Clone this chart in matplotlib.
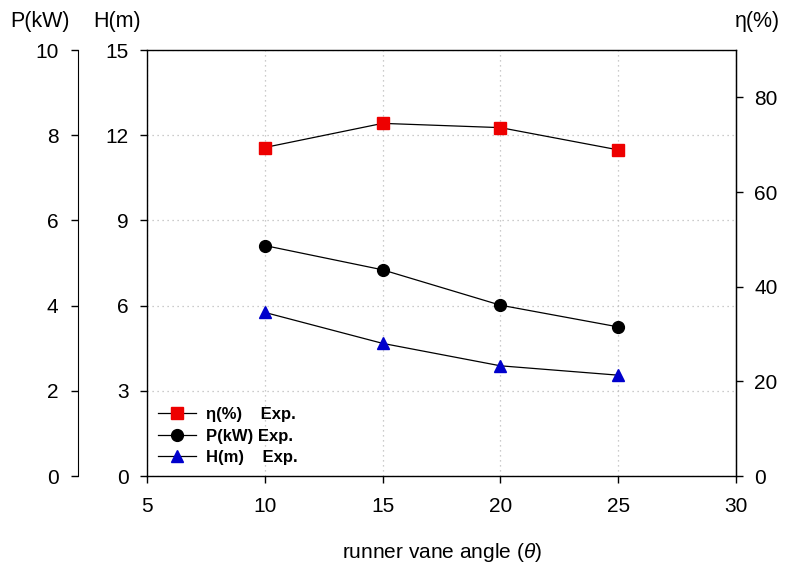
import matplotlib
matplotlib.use("Agg")
import matplotlib.pyplot as plt
from matplotlib.lines import Line2D

plt.rcParams['font.family'] = ['Liberation Sans', 'DejaVu Sans']
plt.rcParams['mathtext.fontset'] = 'custom'
plt.rcParams['mathtext.it'] = 'Liberation Sans:italic'

angle = [10, 15, 20, 25]
eta = [69.4, 74.5, 73.6, 68.9]
power = [5.41, 4.84, 4.01, 3.50]
head = [5.76, 4.67, 3.88, 3.55]

x_ticks = [5, 10, 15, 20, 25, 30]
h_ticks = [0, 3, 6, 9, 12, 15]
p_ticks = [0, 2, 4, 6, 8, 10]
e_ticks = [0, 20, 40, 60, 80]

W, H = 790, 568
fig = plt.figure(figsize=(W / 100, H / 100), dpi=100)
L, R, T, B = 147, 736, 50, 476
ax = fig.add_axes([L / W, (H - B) / H, (R - L) / W, (B - T) / H])

fs = 15
ax.set_xlim(5, 30)
ax.set_ylim(0, 15)
ax.set_xticks(x_ticks)
ax.set_yticks(h_ticks)
ax.tick_params(axis='x', direction='out', length=5, width=1, labelsize=fs, pad=10)
ax.tick_params(axis='y', direction='out', length=5, width=1, labelsize=fs, pad=8)
ax.grid(True, linestyle=(0, (1, 3)), color='#bbbbbb', linewidth=0.9)
ax.set_xlabel(r'runner vane angle ($\theta$)', fontsize=fs, labelpad=18)
for s in ax.spines.values():
    s.set_linewidth(1.0)

# P axis (far left)
ax_p = ax.twinx()
ax_p.set_ylim(0, 10)
ax_p.set_yticks(p_ticks)
ax_p.yaxis.set_ticks_position('left')
ax_p.yaxis.set_label_position('left')
ax_p.spines['left'].set_position(('outward', (L - 78) * 72 / 100))
for k in ['right', 'top', 'bottom']:
    ax_p.spines[k].set_visible(False)
ax_p.spines['left'].set_visible(True)
ax_p.tick_params(axis='y', direction='out', length=5, width=1, labelsize=fs, pad=9)

# eta axis (right)
ax_e = ax.twinx()
ax_e.set_ylim(0, 90)
ax_e.set_yticks(e_ticks)
for k in ['left', 'top', 'bottom']:
    ax_e.spines[k].set_visible(False)
ax_e.tick_params(axis='y', direction='out', length=5, width=1, labelsize=fs, pad=8)

ms = 8.5
ax_e.plot(angle, eta, color='black', linewidth=0.9, marker='s', markersize=ms,
          markerfacecolor='#ee0000', markeredgecolor='#ee0000')
ax_p.plot(angle, power, color='black', linewidth=0.9, marker='o', markersize=ms,
          markerfacecolor='black', markeredgecolor='black')
ax.plot(angle, head, color='black', linewidth=0.9, marker='^', markersize=ms,
        markerfacecolor='#0000cc', markeredgecolor='#0000cc')

handles = [
    Line2D([], [], color='black', linewidth=0.9, marker='s', markersize=ms,
           markerfacecolor='#ee0000', markeredgecolor='#ee0000'),
    Line2D([], [], color='black', linewidth=0.9, marker='o', markersize=ms,
           markerfacecolor='black', markeredgecolor='black'),
    Line2D([], [], color='black', linewidth=0.9, marker='^', markersize=ms,
           markerfacecolor='#0000cc', markeredgecolor='#0000cc'),
]
labels = ['η(%)    Exp.', 'P(kW) Exp.', 'H(m)    Exp.']
leg = ax_e.legend(handles, labels, loc='lower left', bbox_to_anchor=(0.0, 0.0),
                  frameon=False, prop={'weight': 'bold', 'size': 12},
                  handlelength=2.3, handletextpad=0.6, labelspacing=0.4,
                  borderaxespad=0.25)

fig.text(10 / W, 1 - 21 / H, 'P(kW)', fontsize=fs + 0.5, ha='left', va='center')
fig.text(93 / W, 1 - 21 / H, 'H(m)', fontsize=fs + 0.5, ha='left', va='center')
fig.text(735 / W, 1 - 21 / H, 'η(%)', fontsize=fs + 0.5, ha='left', va='center')

fig.savefig('out.png', dpi=100)
